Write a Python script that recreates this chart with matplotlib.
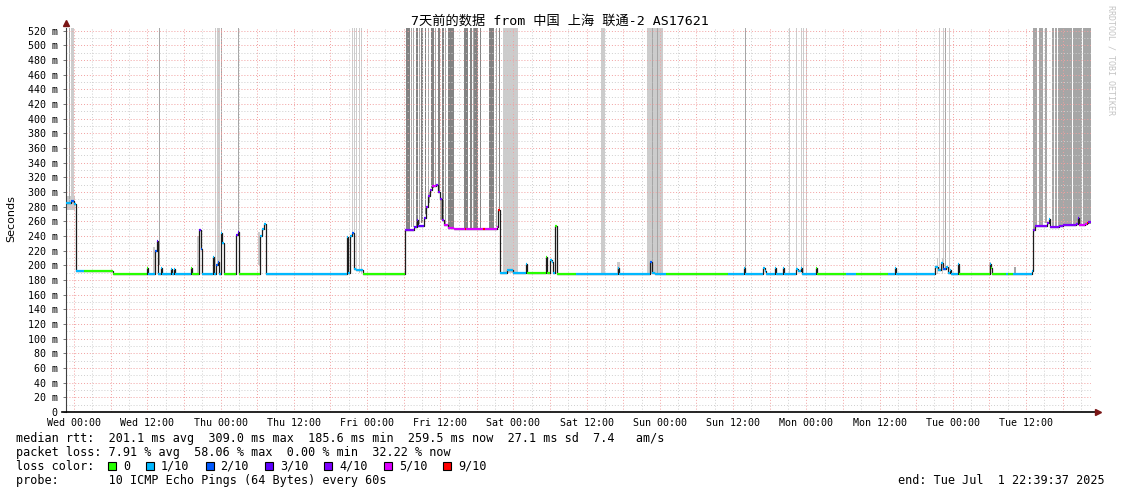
import numpy as np
import matplotlib.pyplot as plt
from matplotlib.patches import Rectangle

W, H = 1121, 494

# median rtt: step start (hours, 0 = Wed 00:00), value in ms, lost pings out of 10
med_t = [-1.34, -0.57, -0.08, 0.25, 1.56, 6.31, 11.89, 12.13, 13.2, 13.52,
         13.77, 14.18, 14.34, 15.82, 15.98, 16.31, 16.48, 19.10, 19.26, 20.41,
         20.74, 20.90, 22.70, 22.95, 23.20, 23.52, 23.77, 24.02, 24.26, 24.51,
         26.48, 26.80, 26.97, 30.41, 30.74, 31.07, 31.39, 44.67, 44.92, 45.16,
         45.49, 45.82, 46.15, 47.30, 54.18, 55.66, 56.15, 56.31, 57.30, 57.62,
         57.95, 58.28, 58.61, 59.26, 59.59, 59.92, 60.25, 60.57, 61.23, 62.21,
         64.0, 64.3, 67.0, 67.3, 69.26, 69.51, 69.75, 71.0, 72.0, 74.02,
         74.18, 77.30, 77.46, 77.95, 78.28, 78.44, 78.77, 79.10, 82.21, 89.10,
         89.34, 94.34, 94.67, 95.16, 96.97, 107.13, 109.75, 109.92, 112.87, 113.20,
         113.44, 114.84, 115.00, 116.15, 116.31, 118.28, 118.61, 119.10, 119.26, 121.56,
         121.72, 126.48, 128.10, 133.36, 134.51, 134.67, 141.07, 141.56, 142.05, 142.38,
         142.87, 143.20, 143.52, 143.69, 144.84, 145.08, 150.08, 150.25, 150.41, 152.8,
         153.1, 153.85, 156.97, 157.13, 157.46, 159.43, 159.75, 159.92, 161.39, 162.05,
         164.18, 164.51, 164.67, 165.66, 165.98, 166.15]
med_ms = [285, 288, 283, 192, 192, 188, 196, 188, 220, 233,
          188, 196, 188, 195, 188, 195, 188, 197, 188, 248,
          222, 188, 212, 188, 200, 205, 188, 244, 230, 188,
          242, 245, 188, 240, 250, 256, 188, 238, 190, 240,
          244, 195, 193, 188, 248, 252, 262, 254, 265, 280,
          295, 303, 308, 309, 300, 290, 262, 255, 251, 250,
          250, 250, 250, 250, 252, 275, 190, 194, 190, 202,
          189, 212, 189, 207, 205, 189, 254, 188, 188, 197,
          188, 205, 190, 188, 188, 188, 196, 188, 197, 192,
          188, 197, 188, 197, 188, 195, 192, 197, 188, 196,
          188, 188, 188, 188, 196, 188, 198, 193, 203, 195,
          198, 190, 193, 188, 202, 188, 202, 196, 188, 188,
          188, 188, 192, 248, 254, 258, 263, 252, 253, 255,
          257, 265, 255, 256, 258, 259]
med_loss = [1, 2, 1, 1, 0, 0, 0, 1, 2, 3,
            1, 1, 1, 1, 1, 1, 1, 0, 0, 3,
            2, 1, 1, 1, 2, 2, 1, 1, 1, 0,
            3, 3, 0, 1, 1, 1, 1, 1, 1, 1,
            2, 1, 1, 0, 4, 3, 3, 3, 3, 4,
            4, 4, 5, 4, 4, 4, 4, 5, 5, 5,
            9, 5, 9, 5, 5, 9, 1, 1, 1, 1,
            0, 0, 0, 1, 1, 1, 0, 0, 1, 1,
            1, 2, 1, 1, 0, 1, 1, 1, 1, 1,
            1, 1, 1, 1, 1, 1, 1, 1, 1, 0,
            0, 1, 0, 1, 1, 1, 1, 1, 1, 2,
            1, 1, 1, 1, 1, 0, 1, 0, 0, 1,
            0, 1, 1, 4, 4, 4, 1, 4, 4, 4,
            4, 3, 5, 5, 9, 4]
t_first, t_last = -1.34, 166.66

# smoke (spread of the 10 pings): hours from/to, ms from/to, density 1..3
smoke_t0 = [-1.34, -0.90, -0.57, -0.16, 13.85, 13.0, 20.2, 23.03, 23.36, 24.02,
            26.80, 30.2, 45.49, 45.82, 46.15, 46.64, 46.97, 54.34, 55.16, 55.49,
            55.98, 56.48, 56.80, 57.46, 57.95, 58.44, 59.10, 59.59, 60.25, 60.74,
            61.23, 63.85, 64.84, 65.33, 65.49, 66.48, 67.95, 69.10, 69.59, 58.0,
            70.25, 60.0, 86.31, 89.0, 93.85, 94.67, 95.49, 109.92, 117.13, 118.28,
            119.10, 119.43, 119.92, 141.4, 141.72, 142.38, 142.70, 143.36, 142.2, 150.0,
            154.1, 157.13, 157.54, 158.11, 159.10, 160.25, 160.74, 161.30, 163.69, 164.10,
            164.59, 165.33, 166.23]
smoke_t1 = [0.1, -0.74, -0.25, 0.0, 14.02, 13.2, 20.4, 23.2, 23.85, 24.18,
            26.97, 30.41, 45.66, 45.98, 46.31, 46.80, 47.13, 55.00, 55.33, 55.66,
            56.31, 56.64, 57.13, 57.62, 58.11, 58.93, 59.26, 59.92, 60.57, 60.90,
            62.21, 64.51, 65.16, 65.49, 66.15, 66.64, 68.77, 69.26, 69.75, 58.3,
            72.70, 60.25, 86.97, 89.4, 96.48, 94.84, 95.66, 110.08, 117.30, 118.44,
            119.26, 119.59, 120.08, 141.6, 141.89, 142.54, 142.87, 143.52, 142.4, 150.3,
            154.3, 157.46, 157.79, 158.77, 159.43, 160.57, 161.15, 163.52, 164.02, 164.51,
            165.16, 166.10, 166.66]
smoke_lo = [276, 285, 285, 283, 200, 188, 190, 200, 200, 230,
            240, 200, 244, 195, 193, 190, 190, 250, 252, 252,
            254, 256, 258, 270, 295, 305, 309, 300, 262, 255,
            251, 250, 250, 250, 250, 250, 250, 252, 275, 285,
            190, 262, 188, 188, 188, 190, 188, 188, 188, 195,
            197, 188, 188, 188, 193, 195, 195, 193, 188, 188,
            188, 250, 254, 254, 258, 252, 252, 253, 256, 257,
            255, 256, 257]
smoke_hi = [294, 530, 530, 530, 530, 225, 240, 530, 530, 530,
            530, 245, 530, 530, 530, 530, 530, 530, 530, 530,
            530, 530, 530, 530, 530, 530, 530, 530, 530, 530,
            530, 530, 530, 530, 530, 530, 530, 530, 530, 300,
            530, 290, 530, 205, 530, 530, 530, 530, 530, 530,
            530, 530, 530, 210, 530, 530, 530, 530, 210, 205,
            198, 530, 530, 530, 530, 530, 530, 530, 530, 530,
            530, 530, 530]
smoke_lvl = [1, 2, 1, 1, 2, 1, 1, 1, 1, 2,
             2, 1, 1, 1, 1, 1, 1, 3, 2, 2,
             3, 2, 3, 3, 2, 3, 2, 3, 3, 2,
             3, 3, 3, 2, 3, 3, 3, 2, 3, 2,
             1, 2, 1, 1, 1, 2, 2, 2, 1, 1,
             1, 1, 1, 1, 1, 1, 2, 1, 1, 1,
             2, 2, 2, 2, 2, 2, 2, 2, 2, 2,
             2, 2, 2]

loss_keys = [0, 1, 2, 3, 4, 5, 9]
loss_names = ["0", "1/10", "2/10", "3/10", "4/10", "5/10", "9/10"]
loss_cols = ["#26ff00", "#00b8ff", "#0059ff", "#5e00ff", "#7e00ff", "#dd00ff", "#ff0000"]

tick_hours = list(range(0, 157, 12))
tick_labels = ["Wed 00:00", "Wed 12:00", "Thu 00:00", "Thu 12:00", "Fri 00:00",
               "Fri 12:00", "Sat 00:00", "Sat 12:00", "Sun 00:00", "Sun 12:00",
               "Mon 00:00", "Mon 12:00", "Tue 00:00", "Tue 12:00"]
y_ticks = list(range(0, 521, 20))

title = "7天前的数据 from 中国 上海 联通-2 AS17621"
stats_lines = [
    "median rtt:  201.1 ms avg  309.0 ms max  185.6 ms min  259.5 ms now  27.1 ms sd  7.4   am/s",
    "packet loss: 7.91 % avg  58.06 % max  0.00 % min  32.22 % now",
]
probe_line = "probe:       10 ICMP Echo Pings (64 Bytes) every 60s"
end_line = "end: Tue Jul  1 22:39:37 2025"

mono = "DejaVu Sans Mono"
fig = plt.figure(figsize=(W / 100, H / 100), dpi=100)
ax = fig.add_axes([66 / W, 1 - 412 / H, 1025 / W, 384 / H])
ax.set_xlim(t_first, t_last)
ax.set_ylim(0, 523.7)

# grid: gray every 3h / 10ms, red every 6h / 20ms
dots = (0, (1, 2))
for h in np.arange(3, t_last, 6):
    ax.axvline(h, color="#cfcfcf", lw=0.7, ls=dots, zorder=2)
for h in np.arange(0, t_last, 6):
    ax.axvline(h, color="#f2a0a0", lw=0.7, ls=dots, zorder=2)
for v in range(10, 521, 20):
    ax.axhline(v, color="#cfcfcf", lw=0.7, ls=dots, zorder=2)
for v in range(20, 521, 20):
    ax.axhline(v, color="#f2a0a0", lw=0.7, ls=dots, zorder=2)

# smoke
shade = {1: "#cccccc", 2: "#a6a6a6", 3: "#838383"}
t0 = np.array(smoke_t0); t1 = np.array(smoke_t1)
lo = np.array(smoke_lo); hi = np.array(smoke_hi); lv = np.array(smoke_lvl)
for k in (1, 2, 3):
    m = lv == k
    ax.bar(t0[m], hi[m] - lo[m], width=t1[m] - t0[m], bottom=lo[m], align="edge",
           color=shade[k], lw=0, zorder=1)

# median line: dark step line plus loss coloured segments
edges = med_t + [t_last]
ax.step(edges, med_ms + [med_ms[-1]], where="post", color="#1c1c1c", lw=0.9, zorder=3)
col = dict(zip(loss_keys, loss_cols))
ax.hlines(med_ms, med_t, edges[1:], colors=[col[l] for l in med_loss], lw=1.6, zorder=4)

# axes
for s in ("top", "right"):
    ax.spines[s].set_visible(False)
ax.spines["left"].set_color("#404040")
ax.spines["bottom"].set_visible(False)
ax.plot([-0.004, 1.006], [0, 0], transform=ax.transAxes, color="black", lw=1.2,
        clip_on=False, zorder=5)
ax.plot([1.007], [0], transform=ax.transAxes, marker=">", ms=4, color="#7a1515",
        clip_on=False, zorder=5)
ax.plot([0], [1.012], transform=ax.transAxes, marker="^", ms=4, color="#7a1515",
        clip_on=False, zorder=5)

ax.set_xticks(tick_hours, tick_labels)
ax.set_yticks(y_ticks, ["0"] + [f"{v} m" for v in y_ticks[1:]])
ax.tick_params(axis="x", length=0, pad=4, labelsize=7.2)
ax.tick_params(axis="y", length=2, width=0.6, color="#606060", pad=4, labelsize=7.2)
for lab in ax.get_xticklabels() + ax.get_yticklabels():
    lab.set_family(mono)

fig.text(11 / W, 1 - 219 / H, "Seconds", rotation=90, ha="center", va="center",
         fontsize=8, family="DejaVu Sans")
fig.text(560 / W, 1 - 21 / H, title, ha="center", va="center", fontsize=9.5,
         family=[mono, "Noto Sans CJK SC"])
fig.text(1111 / W, 1 - 5 / H, "RRDTOOL / TOBI OETIKER", rotation=270, ha="center",
         va="top", fontsize=6, family=mono, color="#c4c4c4")

# legend block
fs = 8.5
fig.text(16 / W, 1 - 438 / H, stats_lines[0], fontsize=fs, family=mono, va="center")
fig.text(16 / W, 1 - 452 / H, stats_lines[1], fontsize=fs, family=mono, va="center")
fig.text(16 / W, 1 - 466 / H, "loss color:", fontsize=fs, family=mono, va="center")
x = 108
for name, c in zip(loss_names, loss_cols):
    fig.add_artist(Rectangle((x / W, 1 - 470 / H), 8 / W, 8 / H, transform=fig.transFigure,
                             facecolor=c, edgecolor="black", lw=0.8))
    fig.text((x + 15) / W, 1 - 466 / H, name, fontsize=fs, family=mono, va="center")
    x += 15 + 7.1 * len(name) + 16
fig.text(16 / W, 1 - 480 / H, probe_line, fontsize=fs, family=mono, va="center")
fig.text(1105 / W, 1 - 480 / H, end_line, fontsize=fs, family=mono, va="center", ha="right")

fig.savefig("out.png", dpi=100)
